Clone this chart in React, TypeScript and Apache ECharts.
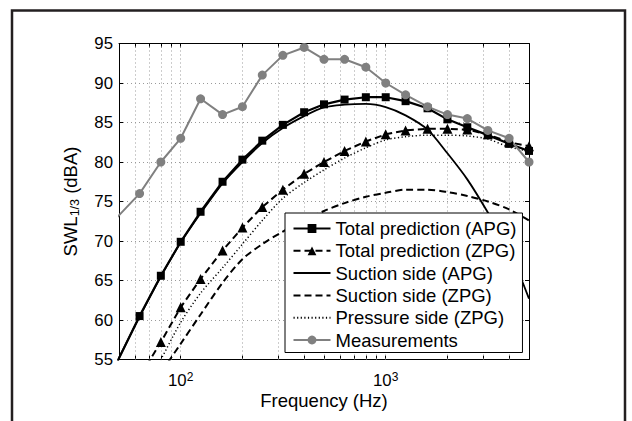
import React, { useEffect, useRef } from 'react';
import * as echarts from 'echarts';

// Frequencies (Hz) of the 1/3-octave bands carrying markers
const markerFreqs = [40, 63, 80, 100, 125, 160, 200, 250, 315, 400, 500, 630, 800, 1000, 1250, 1600, 2000, 2500, 3150, 4000, 5000];
// Frequencies (Hz) of the smooth prediction curves
const curveFreqs = [40, 50, 63, 80, 100, 125, 160, 200, 250, 315, 400, 500, 630, 800, 1000, 1250, 1600, 2000, 2500, 3150, 4000, 5000];

const totalAPG = [50.0, 60.5, 65.6, 69.9, 73.7, 77.5, 80.3, 82.7, 84.7, 86.3, 87.3, 87.9, 88.2, 88.2, 87.7, 86.8, 85.4, 84.4, 83.4, 82.3, 81.4];
const totalZPG = [48.5, 52.8, 57.2, 61.6, 65.2, 68.8, 71.7, 74.3, 76.5, 78.5, 80.0, 81.4, 82.6, 83.5, 84.0, 84.2, 84.2, 84.1, 83.5, 82.5, 82.0];
const measurements = [70.6, 76.0, 80.0, 83.0, 88.0, 86.0, 87.0, 91.0, 93.5, 94.5, 93.0, 93.0, 92.0, 90.0, 88.5, 87.0, 86.0, 85.5, 84.0, 83.0, 80.0];

const suctionAPG = [50.0, 55.2, 60.4, 65.5, 69.8, 73.5, 77.3, 80.0, 82.4, 84.3, 85.8, 86.9, 87.25, 87.35, 86.95, 85.9, 84.1, 81.1, 77.8, 73.6, 68.8, 62.7];
const suctionZPG = [42.0, 45.5, 49.3, 53.3, 57.0, 60.7, 64.7, 67.7, 69.6, 71.2, 72.6, 73.8, 74.8, 75.6, 76.1, 76.5, 76.5, 76.2, 75.7, 75.0, 74.0, 72.6];
const pressureZPG = [41.0, 45.5, 50.2, 55.0, 59.7, 63.4, 66.6, 69.6, 72.6, 75.4, 77.4, 79.0, 80.5, 81.8, 82.8, 83.2, 83.4, 83.4, 83.3, 82.9, 81.9, 81.4];

// Grid line / tick positions on the log frequency axis
const xGridFreqs = [60, 70, 80, 90, 100, 200, 300, 400, 500, 600, 700, 800, 900, 1000, 2000, 3000, 4000];

const seriesNames = [
  'Total prediction (APG)',
  'Total prediction (ZPG)',
  'Suction side (APG)',
  'Suction side (ZPG)',
  'Pressure side (ZPG)',
  'Measurements',
];

const FONT = 'Liberation Sans, Arial, Helvetica, sans-serif';

const pair = (xs: number[], ys: number[]) => xs.map((x, i) => [x, ys[i]]);

export default function App() {
  const ref = useRef<HTMLDivElement>(null);

  useEffect(() => {
    if (!ref.current) return;
    const chart = echarts.init(ref.current, undefined, { renderer: 'svg' });
    const gridDot = { color: '#9a9a9a', type: [1, 3] as number[], width: 1 };
    const tickStyle = { show: true, inside: true, length: 4, lineStyle: { color: '#000', width: 1 }, customValues: xGridFreqs };

    const option: any = {
      animation: false,
      backgroundColor: '#ffffff',
      textStyle: { fontFamily: FONT },
      grid: { left: 119, top: 43.5, width: 410, height: 316, outerBoundsMode: 'none' },
      xAxis: [
        {
          type: 'log',
          logBase: 10,
          min: 50,
          max: 5000,
          position: 'bottom',
          axisLine: { show: true, onZero: false, lineStyle: { color: '#000', width: 1 } },
          axisTick: tickStyle,
          splitLine: { show: false },
          axisLabel: {
            margin: 11,
            color: '#000',
            customValues: [100, 1000],
            formatter: (v: number) => {
              const l = Math.log10(v);
              const e = Math.round(l);
              if (Math.abs(l - e) > 1e-6) return '';
              return `{b|10}{s|${e}}`;
            },
            rich: {
              b: { fontSize: 16.8, lineHeight: 20, fontFamily: FONT, color: '#000' },
              s: { fontSize: 12, lineHeight: 6, verticalAlign: 'top', fontFamily: FONT, color: '#000' },
            },
          },
          name: 'Frequency (Hz)',
          nameLocation: 'middle',
          nameGap: 31,
          nameMoveOverlap: false,
          nameTextStyle: { fontSize: 18.5, color: '#000', fontFamily: FONT },
        },
        {
          type: 'log',
          logBase: 10,
          min: 50,
          max: 5000,
          position: 'top',
          axisLine: { show: true, onZero: false, lineStyle: { color: '#000', width: 1 } },
          axisTick: tickStyle,
          axisLabel: { show: false },
          splitLine: { show: false },
        },
      ],
      yAxis: [
        {
          type: 'value',
          min: 55,
          max: 95,
          interval: 5,
          position: 'left',
          axisLine: { show: true, onZero: false, lineStyle: { color: '#000', width: 1 } },
          axisTick: { show: true, inside: true, length: 4, lineStyle: { color: '#000', width: 1 } },
          axisLabel: { margin: 6, color: '#000', fontSize: 16.8, fontFamily: FONT },
          splitLine: { show: true, lineStyle: gridDot },
          name: '{a|SWL}{sub|1/3}{a| (dBA)}',
          nameLocation: 'middle',
          nameGap: 38,
          nameMoveOverlap: false,
          nameTextStyle: {
            color: '#000',
            fontFamily: FONT,
            rich: {
              a: { fontSize: 18.5, lineHeight: 22, fontFamily: FONT, color: '#000' },
              sub: { fontSize: 12.5, lineHeight: 10, verticalAlign: 'bottom', fontFamily: FONT, color: '#000' },
            },
          },
        },
        {
          type: 'value',
          min: 55,
          max: 95,
          interval: 5,
          position: 'right',
          axisLine: { show: true, onZero: false, lineStyle: { color: '#000', width: 1 } },
          axisTick: { show: true, inside: true, length: 4, lineStyle: { color: '#000', width: 1 } },
          axisLabel: { show: false },
          splitLine: { show: false },
        },
      ],
      legend: {
        orient: 'vertical',
        left: 285,
        top: 213,
        backgroundColor: '#ffffff',
        borderColor: '#000',
        borderWidth: 1,
        borderRadius: 0,
        padding: [6, 6, 3, 7.5],
        itemGap: 3.3,
        itemWidth: 37,
        itemHeight: 11,
        selectedMode: false,
        textStyle: { fontSize: 18.5, color: '#000', fontFamily: FONT },
        data: [
          { name: seriesNames[0] },
          { name: seriesNames[1] },
          { name: seriesNames[2], itemStyle: { opacity: 0 } },
          { name: seriesNames[3], itemStyle: { opacity: 0 } },
          { name: seriesNames[4], itemStyle: { opacity: 0 } },
          { name: seriesNames[5] },
        ],
      },
      series: [
        {
          type: 'line',
          name: '_xgrid',
          data: [[50, 55]],
          showSymbol: false,
          silent: true,
          z: 1,
          lineStyle: { opacity: 0 },
          markLine: {
            silent: true,
            z: 1,
            symbol: ['none', 'none'],
            label: { show: false },
            lineStyle: gridDot,
            emphasis: { disabled: true },
            data: xGridFreqs.map((f) => ({ xAxis: f })),
          },
        },
        {
          type: 'line',
          name: seriesNames[0],
          data: pair(markerFreqs, totalAPG),
          clip: true,
          z: 3,
          symbol: 'rect',
          symbolSize: 8,
          itemStyle: { color: '#000' },
          lineStyle: { color: '#000', width: 2.2 },
        },
        {
          type: 'line',
          name: seriesNames[1],
          data: pair(markerFreqs, totalZPG),
          clip: true,
          z: 3,
          symbol: 'triangle',
          symbolSize: 10,
          itemStyle: { color: '#000' },
          lineStyle: { color: '#000', width: 2, type: [7, 4] },
        },
        {
          type: 'line',
          name: seriesNames[2],
          data: pair(curveFreqs, suctionAPG),
          clip: true,
          z: 3,
          symbol: 'none',
          smooth: 0.3,
          itemStyle: { color: '#000' },
          lineStyle: { color: '#000', width: 1.8 },
        },
        {
          type: 'line',
          name: seriesNames[3],
          data: pair(curveFreqs, suctionZPG),
          clip: true,
          z: 3,
          symbol: 'none',
          smooth: 0.3,
          itemStyle: { color: '#000' },
          lineStyle: { color: '#000', width: 2, type: [7, 4] },
        },
        {
          type: 'line',
          name: seriesNames[4],
          data: pair(curveFreqs, pressureZPG),
          clip: true,
          z: 3,
          symbol: 'none',
          smooth: 0.3,
          itemStyle: { color: '#000' },
          lineStyle: { color: '#000', width: 1.5, type: [1.2, 2.4] },
        },
        {
          type: 'line',
          name: seriesNames[5],
          data: pair(markerFreqs, measurements),
          clip: true,
          z: 3,
          symbol: 'circle',
          symbolSize: 9,
          itemStyle: { color: '#808080' },
          lineStyle: { color: '#808080', width: 2 },
        },
      ],
      graphic: [
        {
          type: 'polyline',
          silent: true,
          z: 100,
          shape: { points: [[12, 421], [12, 10.5], [625, 10.5], [625, 421]] },
          style: { stroke: '#231f20', lineWidth: 2.5, fill: 'none' },
        },
      ],
    };

    chart.setOption(option);
    return () => chart.dispose();
  }, []);

  return <div ref={ref} style={{ position: 'absolute', left: 0, top: 0, width: 632, height: 421 }} />;
}
